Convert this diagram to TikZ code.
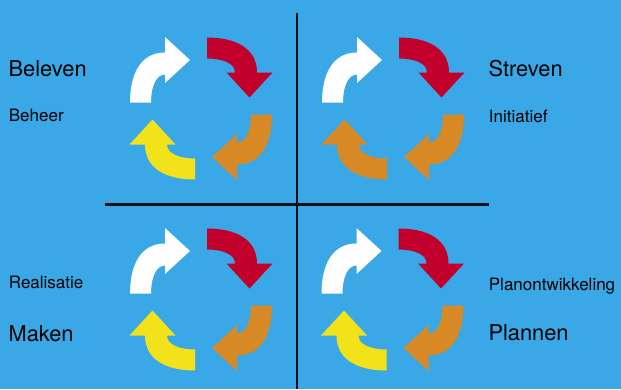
\documentclass[tikz,border=0pt]{standalone}
\usepackage{fontspec}
\setmainfont{TeX Gyre Heros}
\definecolor{bgblue}{RGB}{58,167,230}
\definecolor{cred}{RGB}{193,0,43}
\definecolor{corange}{RGB}{214,137,36}
\definecolor{cyellow}{RGB}{242,226,26}
\definecolor{cline}{RGB}{15,15,20}
\tikzset{
  arr/.pic={\fill[pic actions] (-71,-6) .. controls (-71,-35) and (-60,-56) .. (-36,-56)
      -- (-36,-71.5) -- (-11,-48.5) -- (-36,-25.5) -- (-36,-34)
      .. controls (-45,-34) and (-50,-22) .. (-50,-6) -- cycle;},
  bigtxt/.style={anchor=base west,inner sep=0pt,font=\fontsize{21.8}{26}\selectfont,text=black},
  smalltxt/.style={anchor=base west,inner sep=0pt,font=\fontsize{17}{20}\selectfont,text=black},
  divline/.style={draw=cline,line width=2.8pt}
}
\newcommand{\mycycle}[3]{%
  \pic[fill=white] at #1 {arr};
  \pic[fill=cred,rotate=-90] at #1 {arr};
  \pic[fill=corange,rotate=-180] at #1 {arr};
  \pic[fill=#2,rotate=-270] at #1 {arr};
}
\begin{document}
\begin{tikzpicture}[x=1pt,y=-1pt]
\useasboundingbox (0,0) rectangle (621,389);
\fill[bgblue] (0,0) rectangle (621,389);
\coordinate (vtop) at (297,12.7);
\coordinate (vbot) at (297,389);
\coordinate (hl) at (105,204.2);
\coordinate (hr) at (489,204.2);
\draw[divline] (vtop) -- (vbot);
\draw[divline] (hl) -- (hr);
\mycycle{(201,108.5)}{cyellow}{}
\mycycle{(393,108.5)}{corange}{}
\mycycle{(201,299.5)}{cyellow}{}
\mycycle{(392.5,299.5)}{cyellow}{}
\node[bigtxt] (beleven) at (8.4,76.7) {Beleven};
\node[smalltxt] (beheer) at (8.7,121.5) {Beheer};
\node[bigtxt] (streven) at (488.4,76.7) {Streven};
\node[smalltxt] (initiatief) at (488.7,122.5) {Initiatief};
\node[smalltxt] (realisatie) at (8.7,288.5) {Realisatie};
\node[bigtxt] (maken) at (8.4,341) {Maken};
\node[smalltxt] (planontw) at (488.7,290.8) {Planontwikkeling};
\node[bigtxt] (plannen) at (488.4,340.5) {Plannen};
\end{tikzpicture}
\end{document}
